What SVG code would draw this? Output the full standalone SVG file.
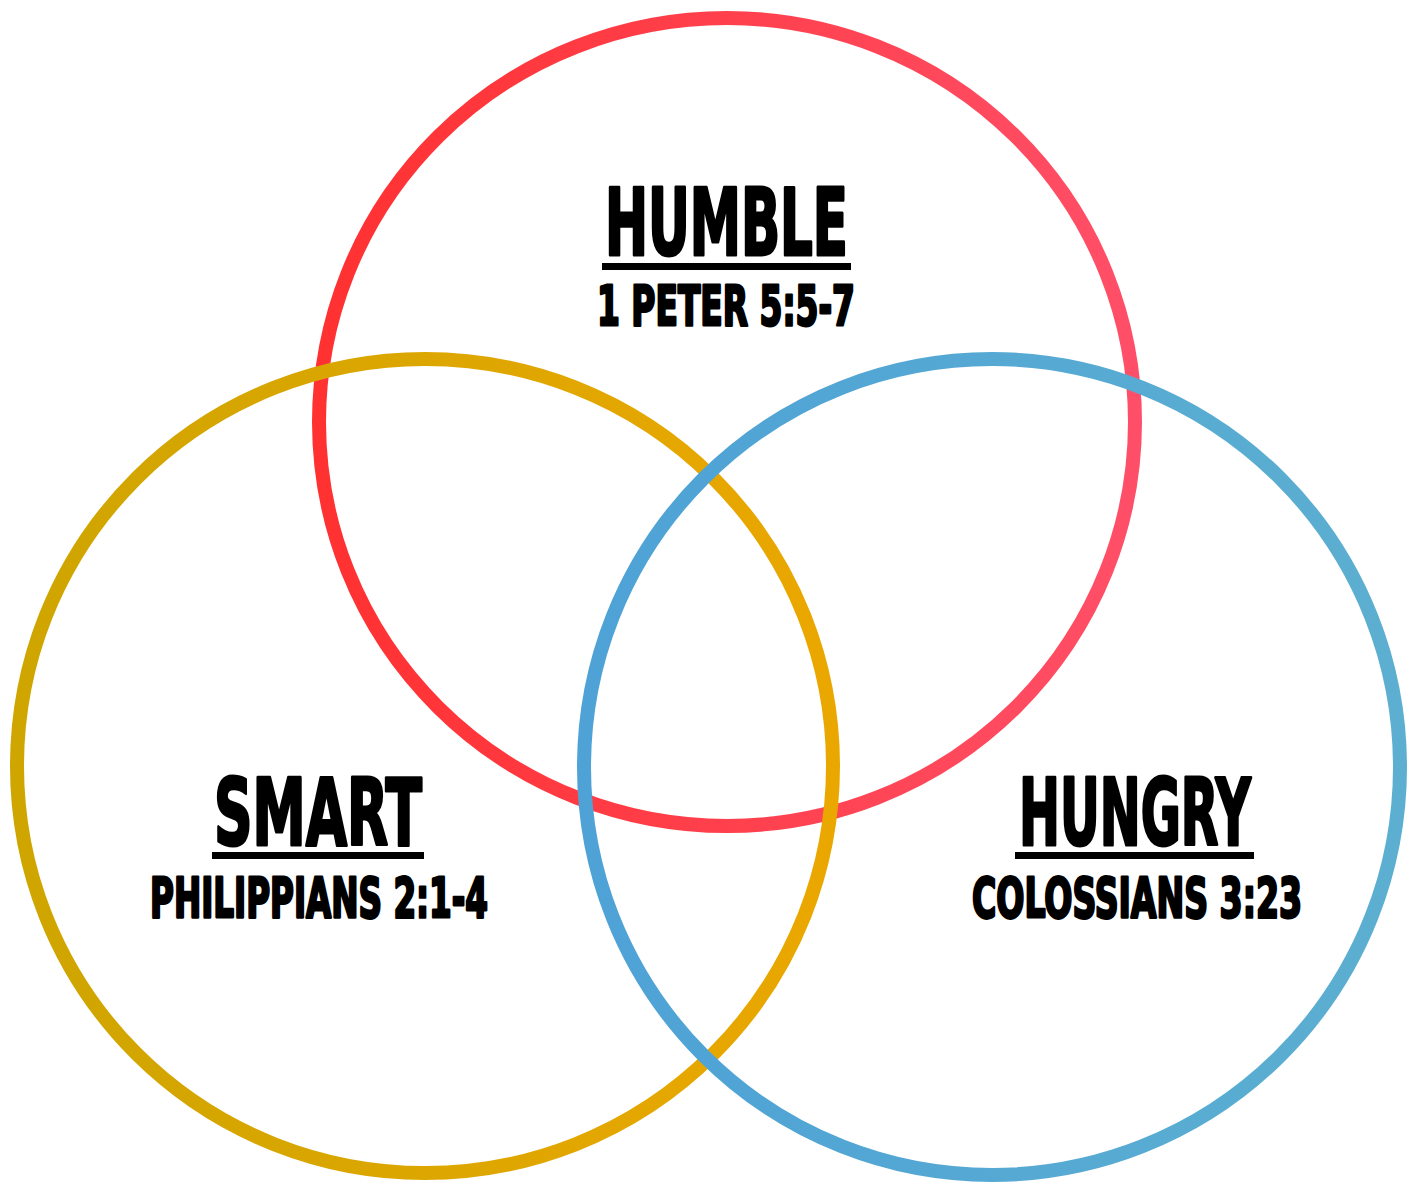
<svg xmlns="http://www.w3.org/2000/svg" width="1416" height="1184" viewBox="0 0 1416 1184">
<defs>
<linearGradient id="gRed" x1="0" y1="0" x2="1" y2="0"><stop offset="0" stop-color="#ff3131"/><stop offset="1" stop-color="#ff4f68"/></linearGradient>
<linearGradient id="gYel" x1="0" y1="0" x2="1" y2="0"><stop offset="0" stop-color="#cfa500"/><stop offset="1" stop-color="#eaa700"/></linearGradient>
<linearGradient id="gBlu" x1="0" y1="0" x2="1" y2="0"><stop offset="0" stop-color="#4ea2d6"/><stop offset="1" stop-color="#5cafd0"/></linearGradient>
</defs>
<style>
.ring{fill:none;stroke-width:14}
.t{font-family:"DejaVu Sans Condensed","DejaVu Sans","Liberation Sans",sans-serif;font-weight:bold;fill:#000;stroke:#000;stroke-width:2;stroke-linejoin:round;text-anchor:middle}
.h{font-size:62px}
.s{font-size:40px}
.u{fill:#000}
</style>
<rect width="1416" height="1184" fill="#fff"/>
<g id="humble">
<ellipse class="ring" cx="727" cy="422" rx="408" ry="404" stroke="url(#gRed)"/>
<text class="t h" transform="translate(726.5,255) scale(1,1.5)" x="0" y="0" textLength="243" lengthAdjust="spacingAndGlyphs">HUMBLE</text>
<rect class="u" x="602" y="263" width="249" height="7"/>
<text class="t s" transform="translate(726,325) scale(1,1.4)" x="0" y="0" textLength="258" lengthAdjust="spacingAndGlyphs">1 PETER 5:5-7</text>
</g>
<g id="smart">
<ellipse class="ring" cx="425" cy="766" rx="408" ry="407" stroke="url(#gYel)"/>
<text class="t h" transform="translate(318,845) scale(1,1.5)" x="0" y="0" textLength="208" lengthAdjust="spacingAndGlyphs">SMART</text>
<rect class="u" x="212" y="852" width="212" height="7"/>
<text class="t s" transform="translate(319,917) scale(1,1.4)" x="0" y="0" textLength="338" lengthAdjust="spacingAndGlyphs">PHILIPPIANS 2:1-4</text>
</g>
<g id="hungry">
<ellipse class="ring" cx="992" cy="767" rx="408" ry="408" stroke="url(#gBlu)"/>
<text class="t h" transform="translate(1135,845) scale(1,1.5)" x="0" y="0" textLength="232" lengthAdjust="spacingAndGlyphs">HUNGRY</text>
<rect class="u" x="1015" y="852" width="239" height="7"/>
<text class="t s" transform="translate(1137,917) scale(1,1.4)" x="0" y="0" textLength="330" lengthAdjust="spacingAndGlyphs">COLOSSIANS 3:23</text>
</g>
<g id="connectors"></g>
</svg>
